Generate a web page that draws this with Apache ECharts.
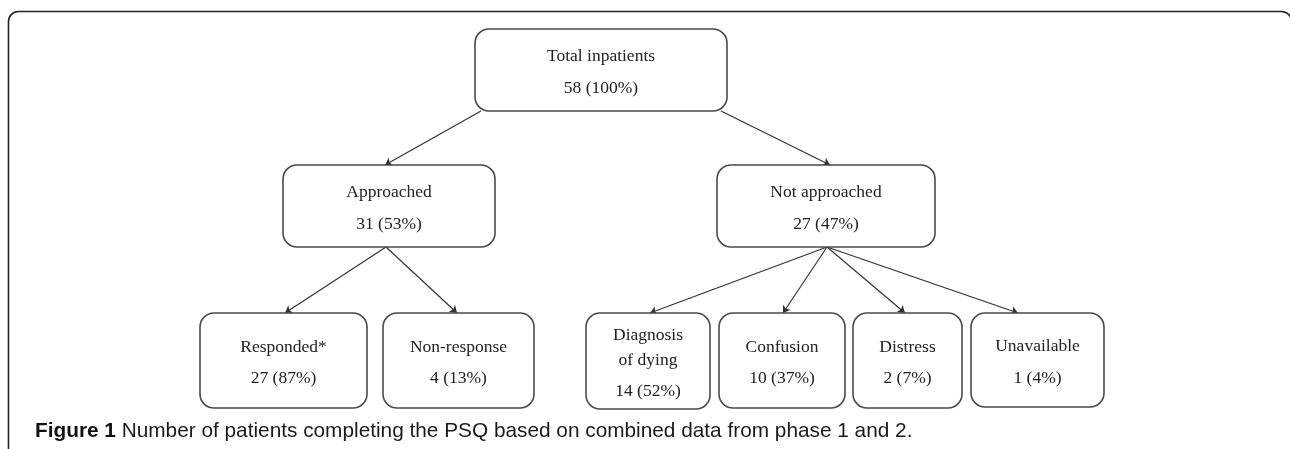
<!DOCTYPE html>
<html>
<head>
<meta charset="utf-8">
<script src="https://cdn.jsdelivr.net/npm/echarts@6/dist/echarts.min.js"></script>
<style>html,body{margin:0;padding:0;background:#fff;}#c{width:1290px;height:449px;}</style>
</head>
<body>
<div id="c"></div>
<script>
// ---- data ----
const nodeNames = ['Total inpatients', 'Approached', 'Not approached', 'Responded*', 'Non-response', 'Diagnosis\nof dying', 'Confusion', 'Distress', 'Unavailable'];
const nodeCounts = [58, 31, 27, 27, 4, 14, 10, 2, 1];
const nodePercents = [100, 53, 47, 87, 13, 52, 37, 7, 4];
const linkFrom = [0, 0, 1, 1, 2, 2, 2, 2];
const linkTo = [1, 2, 3, 4, 5, 6, 7, 8];
const captionBold = 'Figure 1';
const captionText = 'Number of patients completing the PSQ based on combined data from phase 1 and 2.';

// ---- layout (pixel positions of boxes: x1, x2, y1, y2) ----
const boxLayout = [
  [475, 727, 29, 111],
  [283, 495, 165, 247],
  [717, 935, 165, 247],
  [200, 367, 313, 408],
  [383, 534, 313, 408],
  [586, 710, 313, 409],
  [719, 845, 313, 408],
  [853, 962, 313, 408],
  [971, 1104, 313, 407]
];
// arrow anchors: start on parent, end on child (per link)
const arrowLayout = [
  [481, 111, 385, 165],
  [721, 111, 830, 165],
  [386, 247, 285, 313],
  [386, 247, 457, 313],
  [827, 247, 650, 313],
  [827, 247, 783, 313],
  [827, 247, 905, 313],
  [827, 247, 1018, 313]
];

const boxData = nodeNames.map((n, i) => ({
  value: boxLayout[i],
  name: n,
  count: nodeCounts[i],
  pct: nodePercents[i]
}));
const arrowData = linkFrom.map((f, i) => ({
  coords: [[arrowLayout[i][0], arrowLayout[i][1]], [arrowLayout[i][2], arrowLayout[i][3]]]
}));

const serif = '"Liberation Serif", "DejaVu Serif", serif';
const sans = '"Liberation Sans", Arial, sans-serif';
const chart = echarts.init(document.getElementById('c'), null, {renderer: 'canvas'});
chart.setOption({
  animation: false,
  backgroundColor: '#fff',
  grid: {left: 0, right: 0, top: 0, bottom: 0},
  xAxis: {type: 'value', min: 0, max: 1290, show: false},
  yAxis: {type: 'value', min: 0, max: 449, inverse: true, show: false},
  title: {
    left: 35, top: 421, padding: 0,
    text: '{b|' + captionBold + '} ' + captionText,
    textStyle: {
      fontFamily: sans,
      fontSize: 20.8, fontWeight: 'normal', color: '#1a1a1a',
      rich: {b: {fontWeight: 'bold', fontSize: 20.8, fontFamily: sans, color: '#111'}}
    }
  },
  graphic: [{
    type: 'rect', z: 0,
    shape: {x: 8.5, y: 11.5, width: 1283, height: 460, r: [10, 10, 0, 0]},
    style: {fill: 'none', stroke: '#222', lineWidth: 1.6}
  }],
  series: [
    {
      type: 'lines', coordinateSystem: 'cartesian2d',
      symbol: ['none', 'arrow'], symbolSize: 7,
      lineStyle: {color: '#333', width: 1.2, opacity: 1},
      data: arrowData, z: 2
    },
    {
      type: 'custom', coordinateSystem: 'cartesian2d', z: 3,
      data: boxData,
      renderItem: function (params, api) {
        const d = boxData[params.dataIndex];
        const p1 = api.coord([api.value(0), api.value(2)]);
        const p2 = api.coord([api.value(1), api.value(3)]);
        const x = p1[0], y = p1[1], w = p2[0] - p1[0], h = p2[1] - p1[1];
        const lines = d.name.split('\n');
        const lh1 = 25, lh2 = 31.5;
        const blockH = (lines.length - 1) * lh1 + lh2;
        const cx = x + w / 2;
        const cy = y + h / 2 + 2.5;
        const top = cy - blockH / 2;
        const children = [{
          type: 'rect',
          shape: {x: x, y: y, width: w, height: h, r: 14},
          style: {fill: '#fff', stroke: '#4a4a4a', lineWidth: 1.6}
        }];
        lines.forEach((ln, k) => {
          children.push({
            type: 'text',
            style: {text: ln, x: cx, y: top + k * lh1, align: 'center', verticalAlign: 'middle',
              font: '17.5px ' + serif, fill: '#222'}
          });
        });
        children.push({
          type: 'text',
          style: {text: d.count + ' (' + d.pct + '%)', x: cx, y: top + (lines.length - 1) * lh1 + lh2,
            align: 'center', verticalAlign: 'middle', font: '17.5px ' + serif, fill: '#222'}
        });
        return {type: 'group', children: children};
      }
    }
  ]
});
</script>
</body>
</html>
